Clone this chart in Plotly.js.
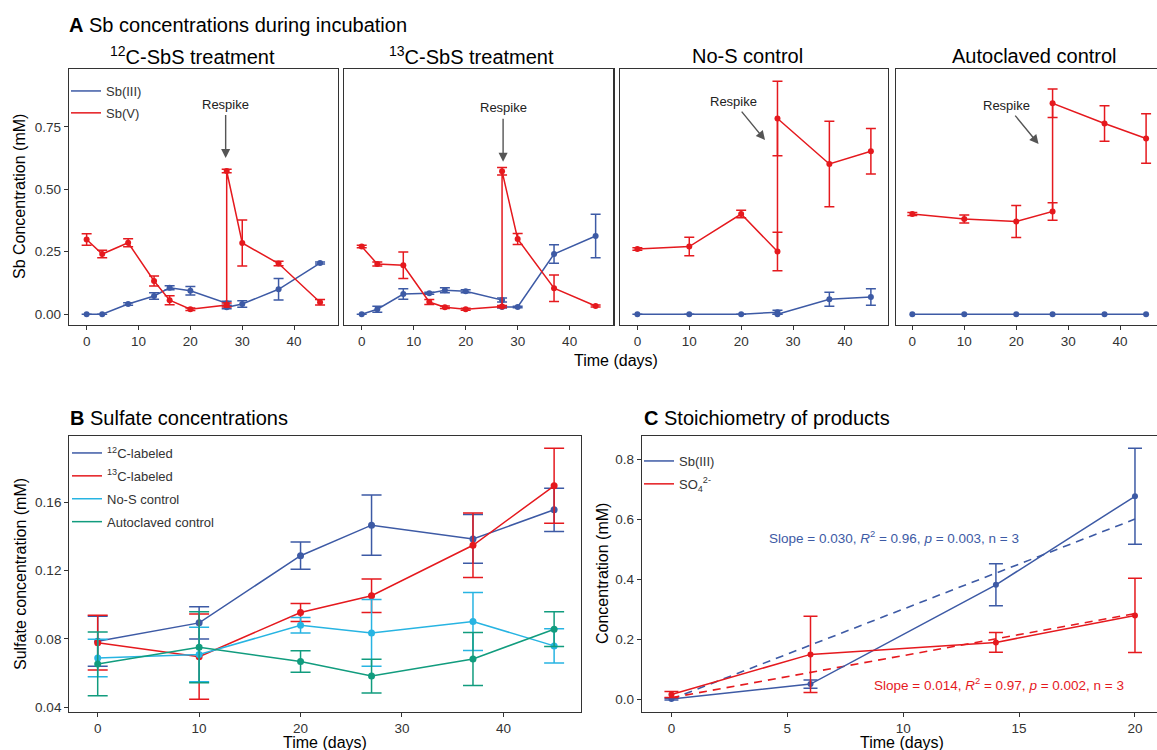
<!DOCTYPE html>
<html>
<head>
<meta charset="utf-8">
<script src="https://cdn.plot.ly/plotly-3.0.1.min.js"></script>
<style>html,body{margin:0;padding:0;background:#fff;}#chart{width:1157px;height:750px;}</style>
</head>
<body>
<div id="chart"></div>
<script>
// ---------------- DATA ----------------
// Panel A: Sb concentrations (two readings at day 27 = before / after respike)
const daysA_treat = [0, 3, 8, 13, 16, 20, 27, 27, 30, 37, 45];
const a1_sbV      = [0.299, 0.241, 0.286, 0.133, 0.056, 0.020, 0.037, 0.573, 0.285, 0.203, 0.048];
const a1_sbV_err  = [0.023, 0.015, 0.016, 0.020, 0.018, 0.005, 0.008, 0.007, 0.092, 0.009, 0.011];
const a1_sbIII    = [0.000, 0.000, 0.041, 0.073, 0.106, 0.094, 0.044, 0.028, 0.041, 0.100, 0.205];
const a1_sbIII_err= [0.000, 0.000, 0.005, 0.013, 0.008, 0.017, 0.008, 0.006, 0.013, 0.043, 0.004];

const a2_sbV      = [0.271, 0.201, 0.196, 0.049, 0.028, 0.020, 0.031, 0.572, 0.301, 0.104, 0.033];
const a2_sbV_err  = [0.005, 0.008, 0.053, 0.010, 0.005, 0.004, 0.004, 0.015, 0.022, 0.053, 0.004];
const a2_sbIII    = [0.000, 0.020, 0.081, 0.084, 0.096, 0.092, 0.057, 0.029, 0.029, 0.241, 0.313];
const a2_sbIII_err= [0.000, 0.012, 0.021, 0.004, 0.010, 0.006, 0.008, 0.004, 0.003, 0.037, 0.087];

const daysA_ctrl  = [0, 10, 20, 27, 27, 37, 45];
const a3_sbV      = [0.261, 0.271, 0.401, 0.251, 0.783, 0.601, 0.652];
const a3_sbV_err  = [0.005, 0.037, 0.015, 0.077, 0.149, 0.171, 0.091];
const a3_sbIII    = [0.000, 0.000, 0.000, 0.008, 0.000, 0.060, 0.069];
const a3_sbIII_err= [0.000, 0.000, 0.000, 0.008, 0.000, 0.028, 0.033];

const a4_sbV      = [0.401, 0.381, 0.371, 0.411, 0.844, 0.763, 0.703];
const a4_sbV_err  = [0.006, 0.016, 0.064, 0.035, 0.057, 0.071, 0.099];
const daysA4_III  = [0, 10, 20, 27, 37, 45];
const a4_sbIII    = [0, 0, 0, 0, 0, 0];

const facetTitles = ["<sup>12</sup>C-SbS treatment", "<sup>13</sup>C-SbS treatment", "No-S control", "Autoclaved control"];

// Panel B: sulfate
const daysB      = [0, 10, 20, 27, 37, 45];
const b_c12      = [0.0786, 0.0894, 0.1288, 0.1467, 0.1386, 0.1557];
const b_c12_err  = [0.0147, 0.0095, 0.0080, 0.0177, 0.0143, 0.0127];
const b_c13      = [0.0778, 0.0696, 0.0955, 0.1053, 0.1349, 0.1698];
const b_c13_err  = [0.0160, 0.0250, 0.0053, 0.0098, 0.0189, 0.0220];
const b_noS      = [0.0688, 0.0708, 0.0880, 0.0835, 0.0902, 0.0759];
const b_noS_err  = [0.0110, 0.0160, 0.0046, 0.0196, 0.0170, 0.0100];
const b_auto     = [0.0653, 0.0751, 0.0667, 0.0582, 0.0682, 0.0857];
const b_auto_err = [0.0187, 0.0208, 0.0063, 0.0099, 0.0155, 0.0102];
const legendB    = ["<sup>12</sup>C-labeled", "<sup>13</sup>C-labeled", "No-S control", "Autoclaved control"];

// Panel C: stoichiometry
const daysC      = [0, 6, 14, 20];
const c_sbIII    = [0.000, 0.050, 0.381, 0.676];
const c_sbIII_err= [0.003, 0.014, 0.070, 0.160];
const c_so4      = [0.0156, 0.149, 0.189, 0.279];
const c_so4_err  = [0.010, 0.127, 0.033, 0.124];
const fitX       = [0, 20];
const fitSbIII   = [0.000, 0.600];
const fitSO4     = [0.005, 0.285];
const fitTextSb  = "Slope = 0.030, <i>R</i><sup>2</sup> = 0.96, <i>p</i> = 0.003, n = 3";
const fitTextSO4 = "Slope = 0.014, <i>R</i><sup>2</sup> = 0.97, <i>p</i> = 0.002, n = 3";

// ---------------- STYLE ----------------
const W = 1157, H = 750;
const FONT = "Liberation Sans, Arial, Helvetica, sans-serif";
const BLUE = "#3D5AA5", RED = "#E5191E", CYAN = "#27B4E2", GREEN = "#119C7E";
const AX = "#333333";
const px = v => v / W;
const py = v => 1 - v / H;

function series(x, y, err, color, xa, ya, capw, msize) {
  return {
    x: x, y: y, xaxis: xa, yaxis: ya, type: "scatter", mode: "lines+markers",
    line: {color: color, width: 1.5}, marker: {color: color, size: msize || 6},
    error_y: {type: "data", array: err, visible: true, color: color, thickness: 1.5, width: capw || 5},
    showlegend: false, hoverinfo: "skip", cliponaxis: false
  };
}
function legendItem(name, color, legendId, xa, ya, grp) {
  return {x: [null], y: [null], xaxis: xa, yaxis: ya, type: "scatter", mode: "lines",
          line: {color: color, width: 1.5}, name: name, legend: legendId, legendgroup: grp, showlegend: true};
}

const traces = [
  series(daysA_treat, a1_sbIII, a1_sbIII_err, BLUE, "x", "y"),
  series(daysA_treat, a1_sbV, a1_sbV_err, RED, "x", "y"),
  series(daysA_treat, a2_sbIII, a2_sbIII_err, BLUE, "x2", "y2"),
  series(daysA_treat, a2_sbV, a2_sbV_err, RED, "x2", "y2"),
  series(daysA_ctrl, a3_sbIII, a3_sbIII_err, BLUE, "x3", "y3"),
  series(daysA_ctrl, a3_sbV, a3_sbV_err, RED, "x3", "y3"),
  series(daysA4_III, a4_sbIII, null, BLUE, "x4", "y4"),
  series(daysA_ctrl, a4_sbV, a4_sbV_err, RED, "x4", "y4"),
  legendItem("Sb(III)", BLUE, "legend", "x", "y", "a1"),
  legendItem("Sb(V)", RED, "legend", "x", "y", "a2"),

  series(daysB, b_c12, b_c12_err, BLUE, "x5", "y5", 10, 7),
  series(daysB, b_c13, b_c13_err, RED, "x5", "y5", 10, 7),
  series(daysB, b_noS, b_noS_err, CYAN, "x5", "y5", 10, 7),
  series(daysB, b_auto, b_auto_err, GREEN, "x5", "y5", 10, 7),
  legendItem(legendB[0], BLUE, "legend2", "x5", "y5", "b1"),
  legendItem(legendB[1], RED, "legend2", "x5", "y5", "b2"),
  legendItem(legendB[2], CYAN, "legend2", "x5", "y5", "b3"),
  legendItem(legendB[3], GREEN, "legend2", "x5", "y5", "b4"),

  {x: fitX, y: fitSbIII, xaxis: "x6", yaxis: "y6", type: "scatter", mode: "lines",
   line: {color: BLUE, width: 1.6, dash: "8px,6px"}, showlegend: false, hoverinfo: "skip"},
  {x: fitX, y: fitSO4, xaxis: "x6", yaxis: "y6", type: "scatter", mode: "lines",
   line: {color: RED, width: 1.6, dash: "8px,6px"}, showlegend: false, hoverinfo: "skip"},
  series(daysC, c_sbIII, c_sbIII_err, BLUE, "x6", "y6", 7, 6),
  series(daysC, c_so4, c_so4_err, RED, "x6", "y6", 7, 6),
  legendItem("Sb(III)", BLUE, "legend3", "x6", "y6", "c1"),
  legendItem("SO<sub>4</sub><sup>2-</sup>", RED, "legend3", "x6", "y6", "c2")
];

function axis(extra) {
  return Object.assign({
    showline: true, mirror: true, linecolor: AX, linewidth: 1.2,
    ticks: "outside", ticklen: 4, tickwidth: 1, tickcolor: AX,
    showgrid: false, zeroline: false, fixedrange: true,
    tickfont: {family: FONT, size: 13.5, color: AX}
  }, extra);
}

// panel geometry (pixels)
const aTop = 69.3, aBot = 325;
const aPanels = [[69, 337.7], [344.3, 613.3], [620, 888], [895.7, 1157]];
const aXRanges = [[-3.4, 48.4], [-3.35, 48.4], [-3.35, 48.3], [-3.2, 47.1]];
const aYRange = [-0.043, 0.98];
const bcTop = 436, bcBot = 711.7;

const legFont = {family: FONT, size: 13, color: AX};
const layout = {
  width: W, height: H, autosize: false,
  margin: {l: 0, r: 0, t: 0, b: 0, pad: 0},
  paper_bgcolor: "#ffffff", plot_bgcolor: "#ffffff",
  font: {family: FONT, color: "#000"},
  showlegend: true,
  legend:  {x: px(66), y: py(76), xanchor: "left", yanchor: "top", bgcolor: "rgba(0,0,0,0)",
            font: legFont, tracegroupgap: 2},
  legend2: {x: px(67), y: py(438), xanchor: "left", yanchor: "top", bgcolor: "rgba(0,0,0,0)",
            font: legFont, tracegroupgap: 3},
  legend3: {x: px(639), y: py(446), xanchor: "left", yanchor: "top", bgcolor: "rgba(0,0,0,0)",
            font: legFont, tracegroupgap: 3},
  annotations: [],
  shapes: []
};

const axNames = ["", "2", "3", "4"];
aPanels.forEach((p, i) => {
  const n = axNames[i];
  layout["xaxis" + n] = axis({domain: [px(p[0]), px(p[1])], range: aXRanges[i], anchor: "y" + n,
                              tickvals: [0, 10, 20, 30, 40]});
  layout["yaxis" + n] = axis({domain: [py(aBot), py(aTop)], range: aYRange, anchor: "x" + n,
                              tickvals: [0, 0.25, 0.5, 0.75], tickformat: ".2f",
                              showticklabels: i === 0, ticks: i === 0 ? "outside" : "",
                              mirror: i === 3 ? false : true});
});
layout.xaxis5 = axis({domain: [px(69.3), px(581)], range: [-2.8, 47.65], anchor: "y5", tickvals: [0, 10, 20, 30, 40]});
layout.yaxis5 = axis({domain: [py(bcBot), py(bcTop)], range: [0.0373, 0.199], anchor: "x5",
                      tickvals: [0.04, 0.08, 0.12, 0.16], tickformat: ".2f"});
layout.xaxis6 = axis({domain: [px(642), 1], range: [-1.27, 20.95], anchor: "y6", tickvals: [0, 5, 10, 15, 20]});
layout.yaxis6 = axis({domain: [py(bcBot), py(bcTop)], range: [-0.042, 0.877], anchor: "x6",
                      tickvals: [0, 0.2, 0.4, 0.6, 0.8], tickformat: ".1f", mirror: false});

function txt(text, x, y, size, opts) {
  return Object.assign({text: text, x: px(x), y: py(y), xref: "paper", yref: "paper",
    showarrow: false, xanchor: "center", yanchor: "middle",
    font: {family: FONT, size: size, color: "#000"}}, opts || {});
}
const A = layout.annotations;
A.push(txt("<b>A</b> Sb concentrations during incubation", 67, 25, 20, {xanchor: "left"}));
const facetCenters = [192, 471, 747, 1034];
facetTitles.forEach((t, i) => A.push(txt(t, facetCenters[i], 56, 20)));
A.push(txt("Sb Concentration (mM)", 20, 197, 16, {textangle: -90}));
A.push(txt("Time (days)", 616, 360, 16));
A.push(txt("<b>B</b> Sulfate concentrations", 68, 418, 20, {xanchor: "left"}));
A.push(txt("<b>C</b> Stoichiometry of products", 642, 418, 20, {xanchor: "left"}));
A.push(txt("Sulfate concentration (mM)", 20, 574, 16, {textangle: -90}));
A.push(txt("Concentration (mM)", 602, 574, 16, {textangle: -90}));
A.push(txt("Time (days)", 325, 742.5, 16));
A.push(txt("Time (days)", 902, 742.5, 16));
A.push(txt(fitTextSb, 894, 537, 13.5, {font: {family: FONT, size: 13.5, color: BLUE}}));
A.push(txt(fitTextSO4, 999, 684, 13.5, {font: {family: FONT, size: 13.5, color: RED}}));

// Respike arrows
const respike = [
  {xref: "x",  yref: "y",  x: 26.8, y: 0.625, ax: 0,   ay: -54},
  {xref: "x2", yref: "y2", x: 27.2, y: 0.610, ax: 0,   ay: -54},
  {xref: "x3", yref: "y3", x: 24.6, y: 0.697, ax: -32, ay: -39},
  {xref: "x4", yref: "y4", x: 24.3, y: 0.681, ax: -32, ay: -39}
];
respike.forEach(r => A.push(Object.assign({
  text: "Respike", showarrow: true, arrowhead: 2, arrowsize: 1.3, arrowwidth: 1.4,
  arrowcolor: "#555555", axref: "pixel", ayref: "pixel", standoff: 0, startstandoff: 2,
  font: {family: FONT, size: 13, color: "#222"}
}, r)));

Plotly.newPlot("chart", traces, layout, {staticPlot: true, displayModeBar: false});
</script>
</body>
</html>
